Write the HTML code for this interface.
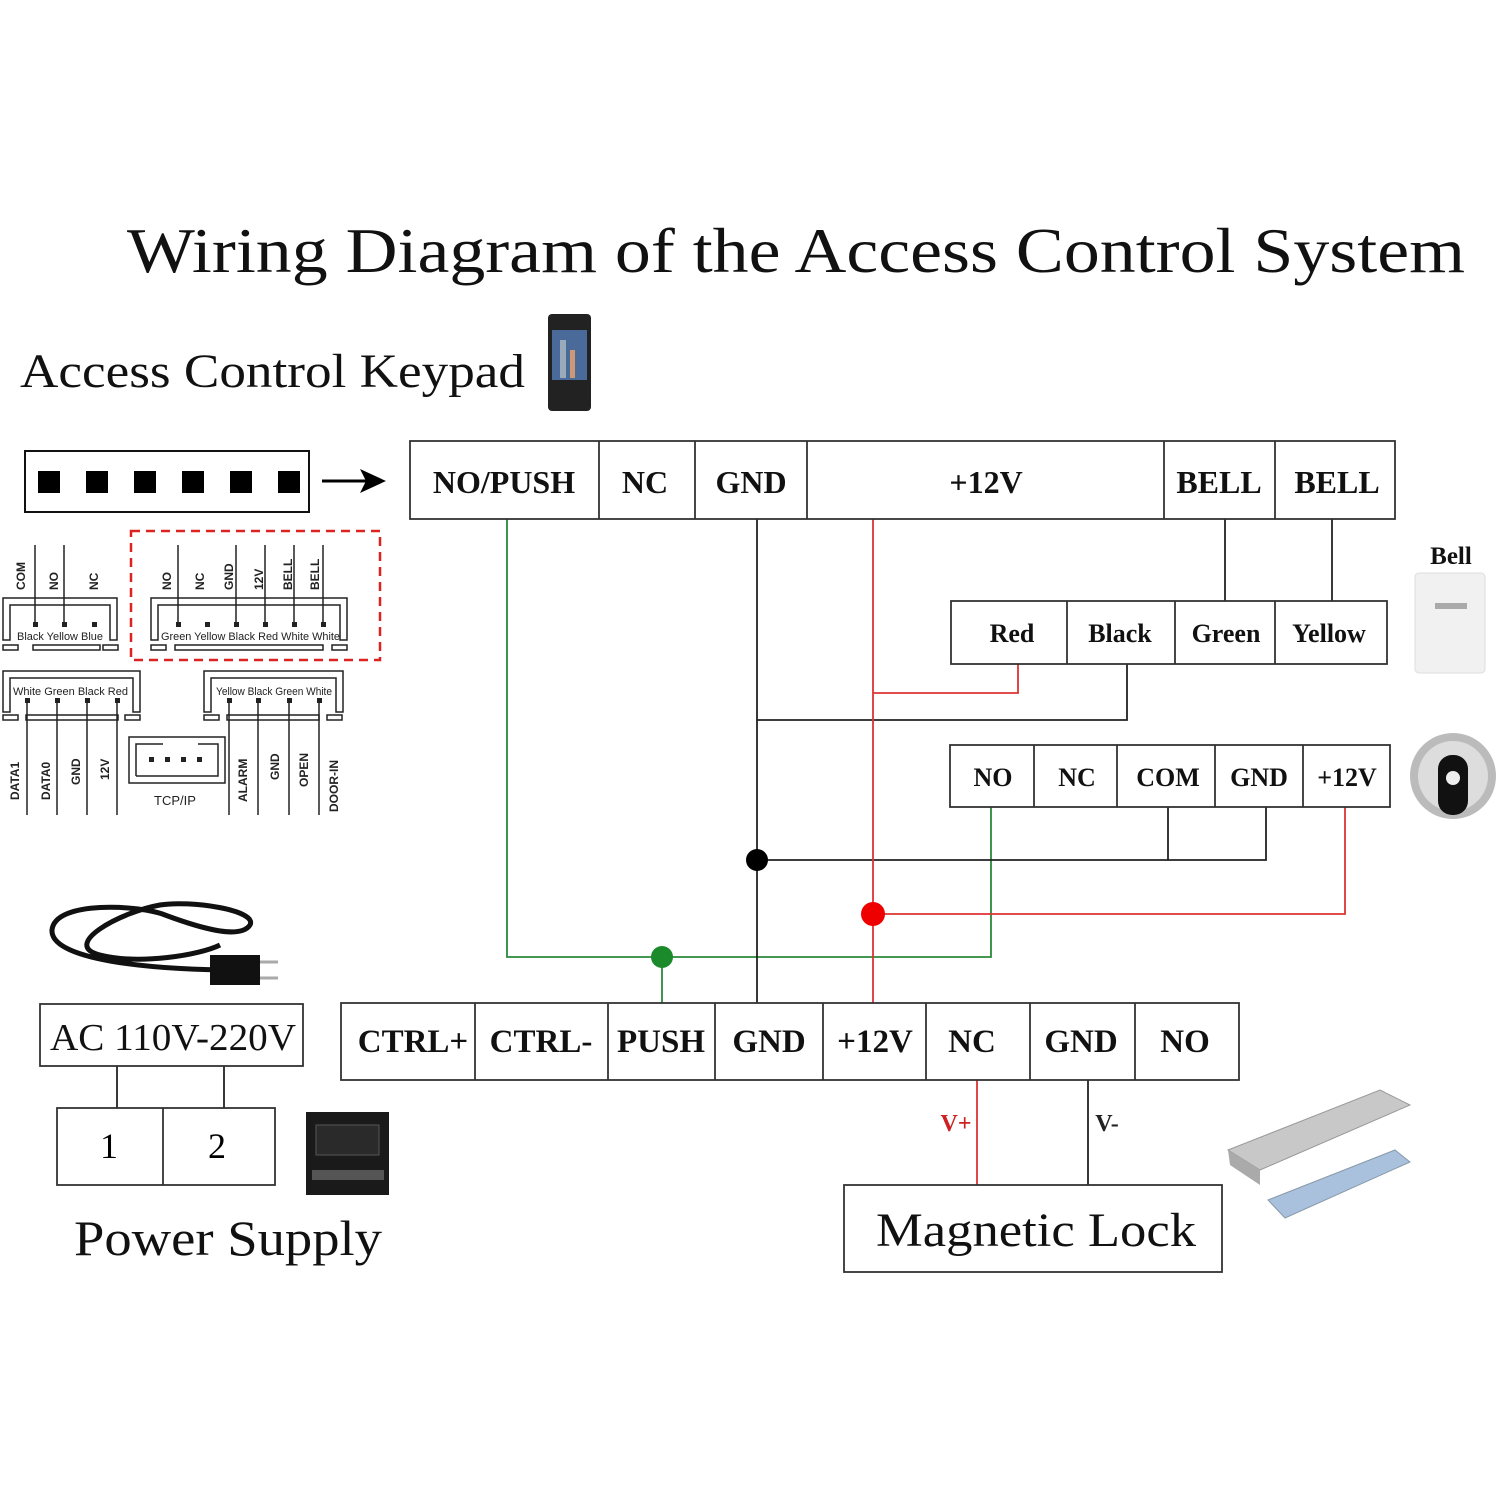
<!DOCTYPE html>
<html><head><style>body{margin:0;background:#fff}svg{display:block}</style></head><body>
<svg width="1497" height="1497" viewBox="0 0 1497 1497" xmlns="http://www.w3.org/2000/svg" font-family="Liberation Serif, serif">
<rect width="1497" height="1497" fill="#fff"/>
<text x="127" y="272" font-size="64" textLength="1338" lengthAdjust="spacingAndGlyphs" fill="#111">Wiring Diagram of the Access Control System</text>
<text x="20" y="387" font-size="48" textLength="505" lengthAdjust="spacingAndGlyphs" fill="#111">Access Control Keypad</text>
<rect x="548" y="314" width="43" height="97" rx="4" fill="#222"/>
<rect x="552" y="330" width="35" height="50" fill="#4a6a9a"/>
<rect x="560" y="340" width="6" height="38" fill="#9ab"/><rect x="570" y="350" width="5" height="28" fill="#c97"/>
<rect x="25" y="451" width="284" height="61" fill="none" stroke="#111" stroke-width="2"/>
<g fill="#000"><rect x="38" y="471" width="22" height="22"/><rect x="86" y="471" width="22" height="22"/><rect x="134" y="471" width="22" height="22"/><rect x="182" y="471" width="22" height="22"/><rect x="230" y="471" width="22" height="22"/><rect x="278" y="471" width="22" height="22"/></g>
<line x1="322" y1="481" x2="372" y2="481" stroke="#000" stroke-width="3"/><path d="M360 469 L386 481 L360 493 L366 481 Z" fill="#000"/>
<g stroke="#222" stroke-width="1.5" fill="none">
<path d="M3 640 V598 H117 V640 H110 V605 H10 V640 Z"/>
<rect x="3" y="645" width="15" height="5"/><rect x="33" y="645" width="67" height="5"/><rect x="103" y="645" width="15" height="5"/>
<line x1="35" y1="545" x2="35" y2="627"/><line x1="64" y1="545" x2="64" y2="627"/>
<path d="M151 640 V598 H347 V640 H340 V605 H158 V640 Z"/>
<rect x="151" y="645" width="15" height="5"/><rect x="175" y="645" width="148" height="5"/><rect x="332" y="645" width="15" height="5"/>
<line x1="178" y1="545" x2="178" y2="627"/><line x1="236" y1="545" x2="236" y2="627"/><line x1="265" y1="545" x2="265" y2="627"/><line x1="294" y1="545" x2="294" y2="627"/><line x1="323" y1="545" x2="323" y2="627"/>
<path d="M3 712 V671 H140 V712 H133 V678 H10 V712 Z"/>
<rect x="3" y="715" width="15" height="5"/><rect x="26" y="715" width="92" height="5"/><rect x="125" y="715" width="15" height="5"/>
<line x1="27" y1="700" x2="27" y2="815"/><line x1="57" y1="700" x2="57" y2="815"/><line x1="87" y1="700" x2="87" y2="815"/><line x1="117" y1="700" x2="117" y2="815"/>
<path d="M204 712 V671 H343 V712 H336 V678 H211 V712 Z"/>
<rect x="204" y="715" width="15" height="5"/><rect x="227" y="715" width="92" height="5"/><rect x="327" y="715" width="15" height="5"/>
<line x1="229" y1="700" x2="229" y2="815"/><line x1="258" y1="700" x2="258" y2="815"/><line x1="289" y1="700" x2="289" y2="815"/><line x1="319" y1="700" x2="319" y2="815"/>
<rect x="129" y="737" width="96" height="46"/><path d="M136 776 V744 H163 M198 744 H218 V776 H136"/>
</g>
<rect x="131" y="531" width="249" height="129" fill="none" stroke="#d22" stroke-width="2.5" stroke-dasharray="9,6"/>
<g fill="#222"><rect x="33" y="622" width="5" height="5"/><rect x="62" y="622" width="5" height="5"/><rect x="92" y="622" width="5" height="5"/>
<rect x="176" y="622" width="5" height="5"/><rect x="205" y="622" width="5" height="5"/><rect x="234" y="622" width="5" height="5"/><rect x="263" y="622" width="5" height="5"/><rect x="292" y="622" width="5" height="5"/><rect x="321" y="622" width="5" height="5"/>
<rect x="25" y="698" width="5" height="5"/><rect x="55" y="698" width="5" height="5"/><rect x="85" y="698" width="5" height="5"/><rect x="115" y="698" width="5" height="5"/>
<rect x="227" y="698" width="5" height="5"/><rect x="256" y="698" width="5" height="5"/><rect x="287" y="698" width="5" height="5"/><rect x="317" y="698" width="5" height="5"/>
<rect x="149" y="757" width="5" height="5"/><rect x="165" y="757" width="5" height="5"/><rect x="181" y="757" width="5" height="5"/><rect x="197" y="757" width="5" height="5"/></g>
<g font-family="Liberation Sans, sans-serif" font-size="11" fill="#222">
<text x="17" y="640" textLength="86" lengthAdjust="spacingAndGlyphs">Black Yellow Blue</text>
<text x="161" y="640" textLength="179" lengthAdjust="spacingAndGlyphs">Green Yellow Black Red White White</text>
<text x="13" y="695" textLength="115" lengthAdjust="spacingAndGlyphs">White Green Black Red</text>
<text x="216" y="695" textLength="116" lengthAdjust="spacingAndGlyphs">Yellow Black Green White</text>
<text x="154" y="805" font-size="13">TCP/IP</text>
<g font-size="12" font-weight="bold">
<text transform="translate(25,590) rotate(-90)">COM</text><text transform="translate(58,590) rotate(-90)">NO</text><text transform="translate(98,590) rotate(-90)">NC</text>
<text transform="translate(171,590) rotate(-90)">NO</text><text transform="translate(204,590) rotate(-90)">NC</text><text transform="translate(233,590) rotate(-90)">GND</text><text transform="translate(263,590) rotate(-90)">12V</text><text transform="translate(292,590) rotate(-90)">BELL</text><text transform="translate(319,590) rotate(-90)">BELL</text>
<text transform="translate(19,800) rotate(-90)">DATA1</text><text transform="translate(50,800) rotate(-90)">DATA0</text><text transform="translate(80,785) rotate(-90)">GND</text><text transform="translate(109,780) rotate(-90)">12V</text>
<text transform="translate(247,802) rotate(-90)">ALARM</text><text transform="translate(279,780) rotate(-90)">GND</text><text transform="translate(308,787) rotate(-90)">OPEN</text><text transform="translate(338,812) rotate(-90)">DOOR-IN</text>
</g></g>
<g fill="none" stroke-width="1.8">
<path d="M507 519 V957 H991 V807" stroke="#2a8a3a"/><line x1="662" y1="957" x2="662" y2="1003" stroke="#2a8a3a"/>
<path d="M757 519 V1003" stroke="#222"/><path d="M1127 664 V720 H757" stroke="#222"/><path d="M757 860 H1266 V807 M1168 807 V860" stroke="#222"/>
<path d="M1225 519 V601 M1332 519 V601" stroke="#222"/>
<path d="M873 519 V1003" stroke="#d33"/><path d="M1018 664 V693 H873" stroke="#d33"/><path d="M873 914 H1345 V807" stroke="#d33"/>
<line x1="977" y1="1080" x2="977" y2="1185" stroke="#d33"/><line x1="1088" y1="1080" x2="1088" y2="1185" stroke="#222"/>
<path d="M117 1066 V1108 M224 1066 V1108" stroke="#222"/>
</g>
<circle cx="757" cy="860" r="11" fill="#000"/><circle cx="873" cy="914" r="12" fill="#e00"/><circle cx="662" cy="957" r="11" fill="#1a8a2a"/>
<g fill="none" stroke="#333" stroke-width="1.8">
<rect x="410" y="441" width="985" height="78"/><path d="M599 441V519M695 441V519M807 441V519M1164 441V519M1275 441V519"/>
<rect x="951" y="601" width="436" height="63"/><path d="M1067 601V664M1175 601V664M1275 601V664"/>
<rect x="950" y="745" width="440" height="62"/><path d="M1034 745V807M1117 745V807M1215 745V807M1303 745V807"/>
<rect x="341" y="1003" width="898" height="77"/><path d="M475 1003V1080M608 1003V1080M715 1003V1080M823 1003V1080M926 1003V1080M1030 1003V1080M1135 1003V1080"/>
<rect x="844" y="1185" width="378" height="87"/>
<rect x="40" y="1004" width="263" height="62"/>
<rect x="57" y="1108" width="218" height="77"/><path d="M163 1108V1185"/>
</g>
<g font-size="32" fill="#111" text-anchor="middle" font-weight="bold">
<text x="504" y="493">NO/PUSH</text><text x="645" y="493">NC</text><text x="751" y="493">GND</text><text x="986" y="493">+12V</text><text x="1219" y="493">BELL</text><text x="1337" y="493">BELL</text>
</g>
<g font-size="26" fill="#111" text-anchor="middle" font-weight="bold">
<text x="1012" y="642">Red</text><text x="1120" y="642">Black</text><text x="1226" y="642">Green</text><text x="1329" y="642">Yellow</text>
<text x="993" y="786">NO</text><text x="1077" y="786">NC</text><text x="1168" y="786">COM</text><text x="1259" y="786">GND</text><text x="1347" y="786">+12V</text>
<text x="1451" y="564" font-size="25">Bell</text>
</g>
<g font-size="33" fill="#111" text-anchor="middle" font-weight="bold">
<text x="413" y="1052">CTRL+</text><text x="541" y="1052">CTRL-</text><text x="661" y="1052">PUSH</text><text x="769" y="1052">GND</text><text x="875" y="1052">+12V</text><text x="972" y="1052">NC</text><text x="1081" y="1052">GND</text><text x="1185" y="1052">NO</text>
</g>
<text x="956" y="1131" font-size="24" fill="#c22" font-weight="bold" text-anchor="middle">V+</text>
<text x="1107" y="1131" font-size="24" fill="#222" font-weight="bold" text-anchor="middle">V-</text>
<text x="876" y="1246" font-size="48" textLength="320" lengthAdjust="spacingAndGlyphs" fill="#111">Magnetic Lock</text>
<text x="50" y="1050" font-size="38" textLength="246" lengthAdjust="spacingAndGlyphs" fill="#111">AC 110V-220V</text>
<text x="109" y="1158" font-size="36" text-anchor="middle">1</text><text x="217" y="1158" font-size="36" text-anchor="middle">2</text>
<text x="74" y="1255" font-size="50" textLength="308" lengthAdjust="spacingAndGlyphs" fill="#111">Power Supply</text>
<rect x="1415" y="573" width="70" height="100" rx="4" fill="#f1f1f1" stroke="#ddd"/>
<rect x="1435" y="603" width="32" height="6" fill="#aaa"/>
<circle cx="1453" cy="776" r="43" fill="#bbb"/><circle cx="1453" cy="776" r="35" fill="#ddd"/>
<rect x="1438" y="755" width="30" height="60" rx="14" fill="#111"/><circle cx="1453" cy="778" r="7" fill="#eee"/>
<g fill="none" stroke="#111" stroke-width="5">
<path d="M240 970 C150 970 50 960 52 930 C55 900 140 905 165 915 C200 928 240 940 250 925 C258 910 190 900 160 905 C120 912 60 945 100 955 C140 965 200 955 220 945"/>
</g>
<rect x="210" y="955" width="50" height="30" fill="#111"/><path d="M260 962h18M260 978h18" stroke="#aaa" stroke-width="3"/>
<rect x="306" y="1112" width="83" height="83" fill="#1a1a1a"/><rect x="316" y="1125" width="63" height="30" fill="#2a2a2a" stroke="#555"/>
<rect x="312" y="1170" width="72" height="10" fill="#555"/>
<path d="M1228 1150 L1380 1090 L1410 1105 L1260 1170 Z" fill="#c8c8c8" stroke="#999"/>
<path d="M1228 1150 L1260 1170 L1260 1185 L1230 1165 Z" fill="#aaa"/>
<path d="M1268 1200 L1395 1150 L1410 1162 L1285 1218 Z" fill="#a9c1dc" stroke="#89a"/>
</svg>
</body></html>
